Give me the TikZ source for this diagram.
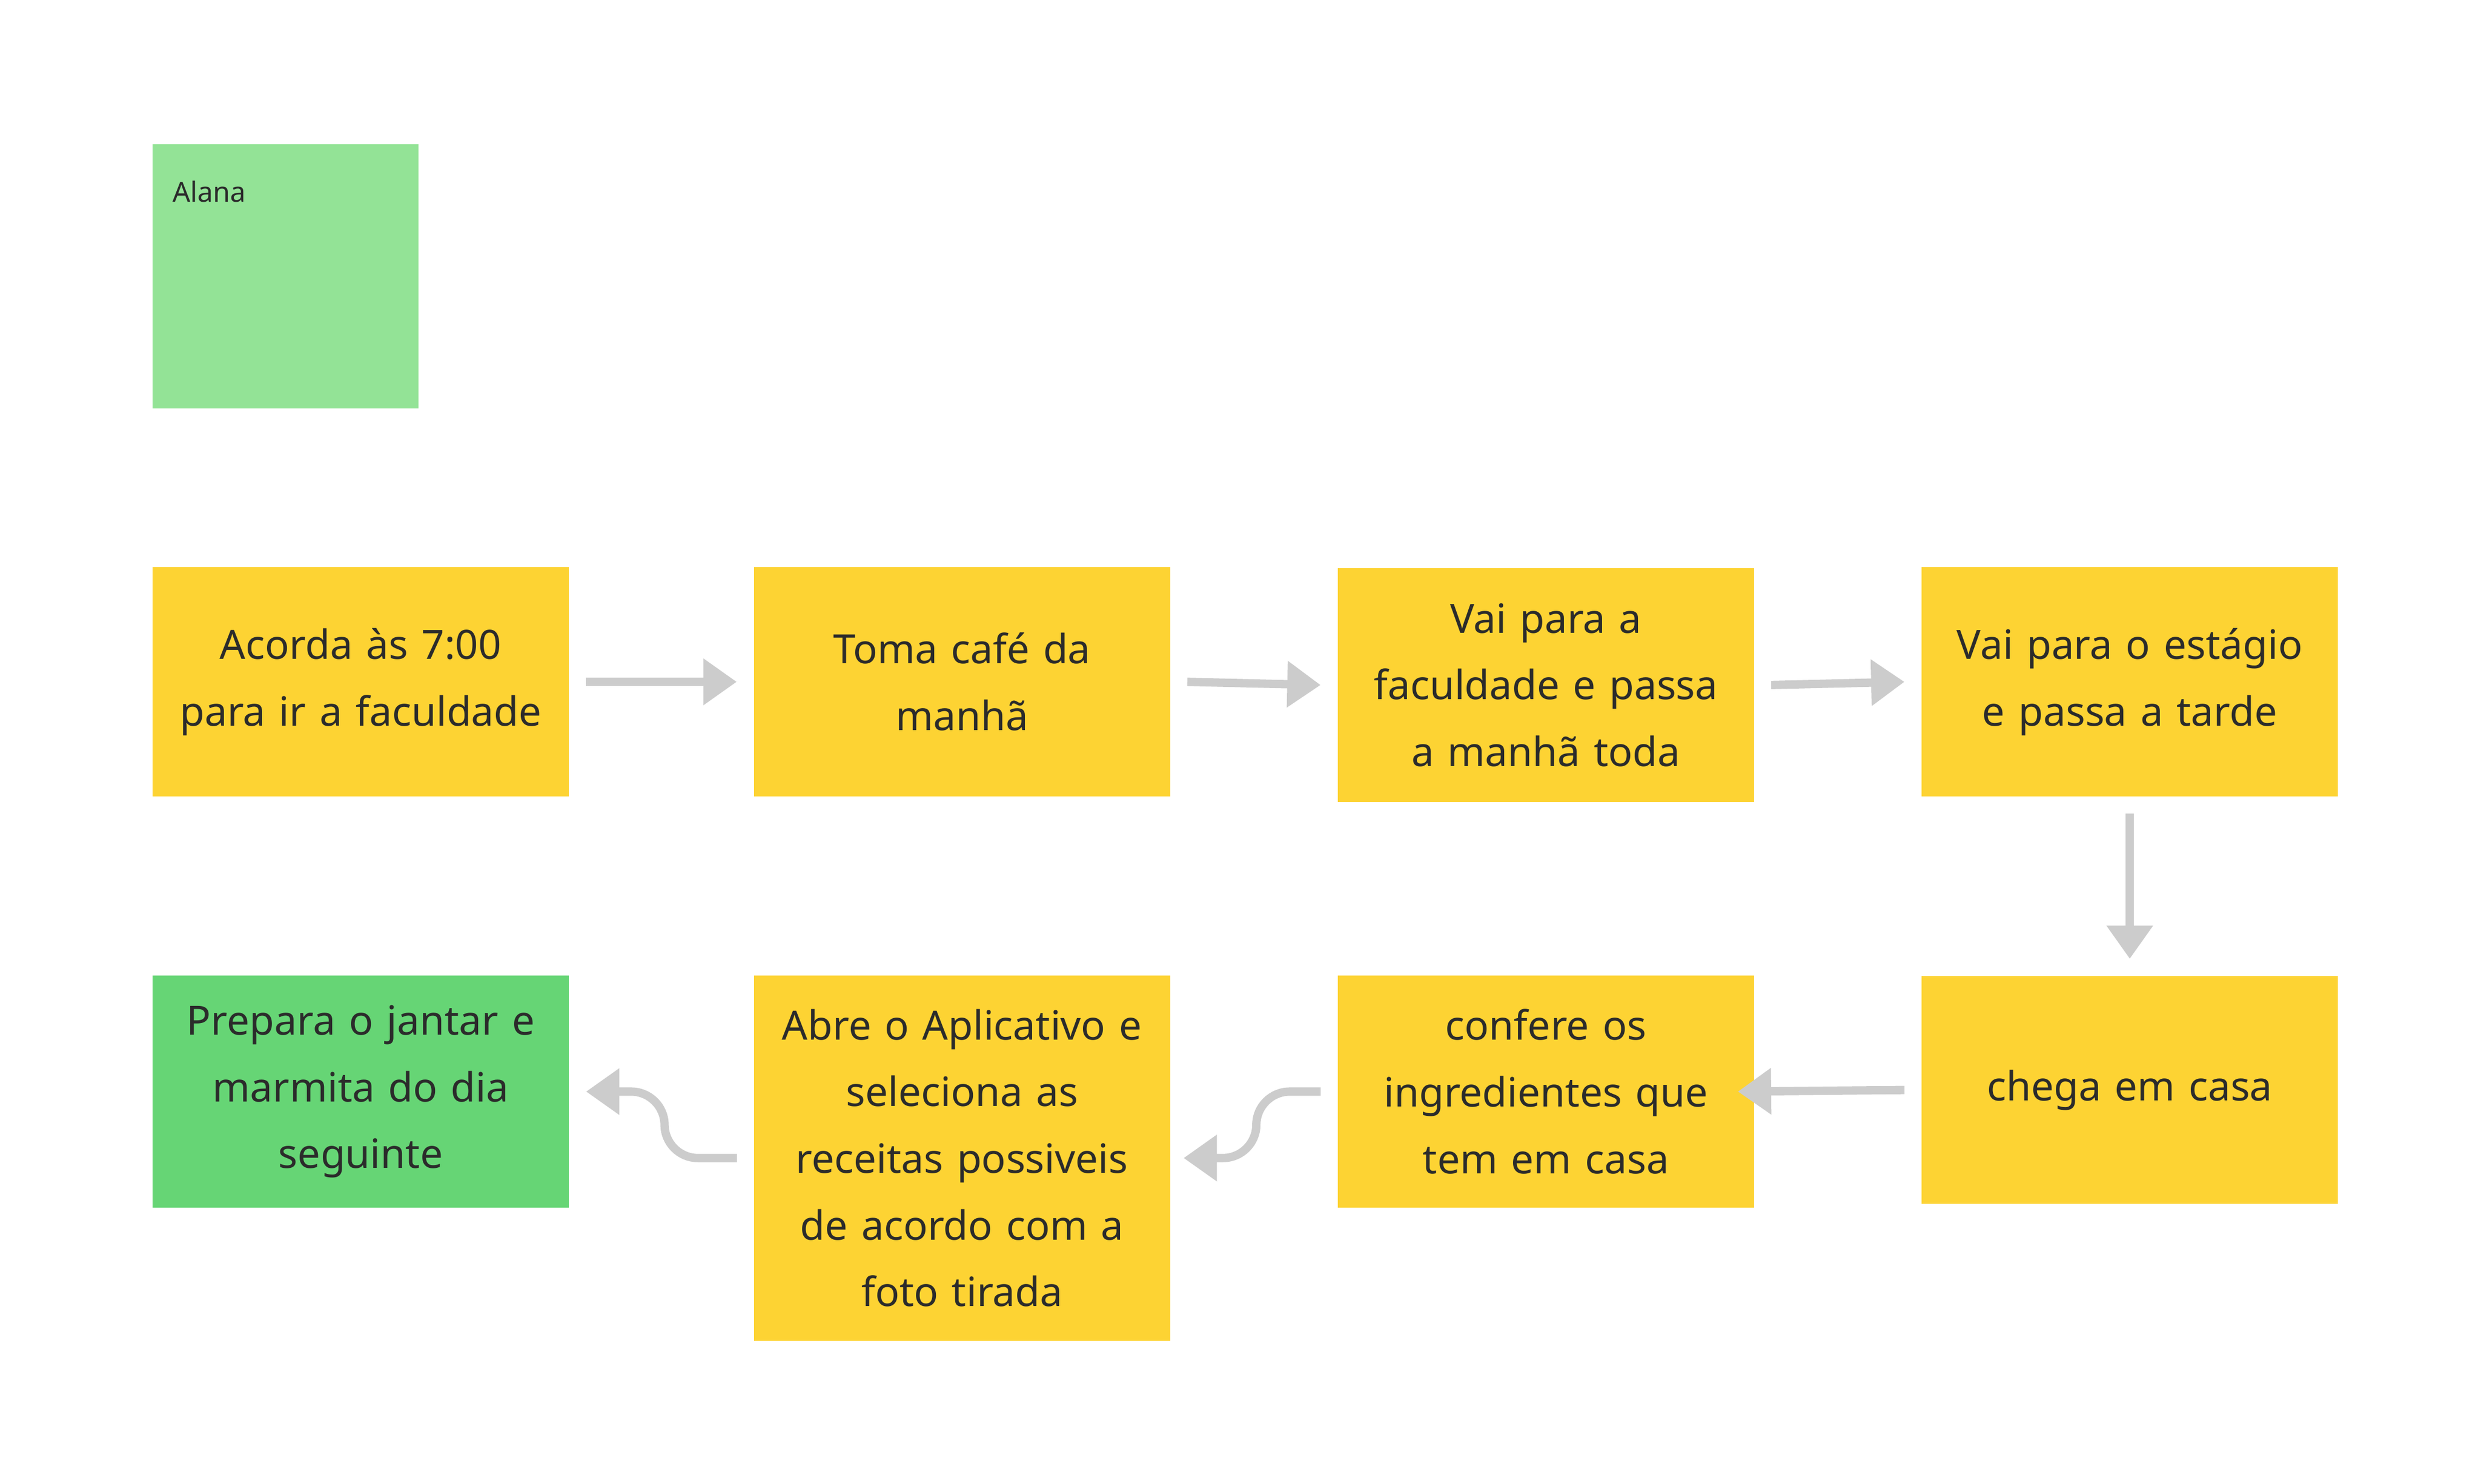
\documentclass[tikz,border=0pt]{standalone}
\usepackage{fontspec}
\setmainfont{Noto Sans}
\usetikzlibrary{positioning,arrows.meta}
\definecolor{postit}{HTML}{FDD333}
\definecolor{lightgreen}{HTML}{93E396}
\definecolor{stepgreen}{HTML}{66D575}
\definecolor{flowgray}{HTML}{CCCCCC}
\definecolor{ink}{HTML}{2B2B2B}
\tikzset{
  card/.style={fill=postit,draw=none,minimum width=5.26cm,minimum height=2.9cm,
    text width=5cm,align=center,text=ink,font=\fontsize{14.5}{24}\selectfont},
  flow/.style={draw=flowgray,line width=3pt,-{Triangle[length=12pt,width=16pt]}},
}
\begin{document}
\begin{tikzpicture}[x=0.02cm,y=-0.02cm]
\useasboundingbox (0,0) rectangle (1568,938);

\node[fill=lightgreen,minimum width=3.36cm,minimum height=3.34cm,anchor=north west] (alana) at (96,91) {};
\node[anchor=north west,text=ink,font=\fontsize{10}{12}\selectfont] at (103,108) {Alana};

\node[card] (acorda) at (228,431) {Acorda às 7:00\\para ir a faculdade};
\node[card] (cafe) at (608,431) {Toma café da\\manhã};
\node[card,minimum height=2.96cm] (facul) at (977,433) {Vai para a\\faculdade e passa\\a manhã toda};
\node[card] (estagio) at (1346,431) {Vai para o estágio\\e passa a tarde};

\node[card,minimum height=2.88cm] (casa) at (1346,689) {chega em casa};
\node[card,minimum height=2.94cm] (confere) at (977,690) {confere os\\ingredientes que\\tem em casa};
\node[card,minimum height=4.62cm] (abre) at (608,732) {Abre o Aplicativo e\\seleciona as\\receitas possiveis\\de acordo com a\\foto tirada};
\node[card,fill=stepgreen,minimum height=2.94cm] (prepara) at (228,690) {Prepara o jantar e\\marmita do dia\\seguinte};

\draw[flow] ([xshift=6pt]acorda.east) -- ([xshift=-6pt]cafe.west);
\draw[flow] ([xshift=6pt]cafe.east) -- ([xshift=-6pt]facul.west);
\draw[flow] ([xshift=6pt]facul.east) -- ([xshift=-6pt]estagio.west);
\draw[flow] ([yshift=-6pt]estagio.south) -- ([yshift=6pt]casa.north);
\draw[flow] ([xshift=-6pt]casa.west) -- ([xshift=-6pt]confere.east);
\draw[flow,rounded corners=12pt] ([xshift=-6pt]confere.west) -- (794,690) -- (794,732) -- (748,732);
\draw[flow,rounded corners=12pt] ([xshift=-6pt,yshift=0pt]abre.west) -- (420,732) -- (420,690) -- ([xshift=6pt]prepara.east);
\end{tikzpicture}
\end{document}
